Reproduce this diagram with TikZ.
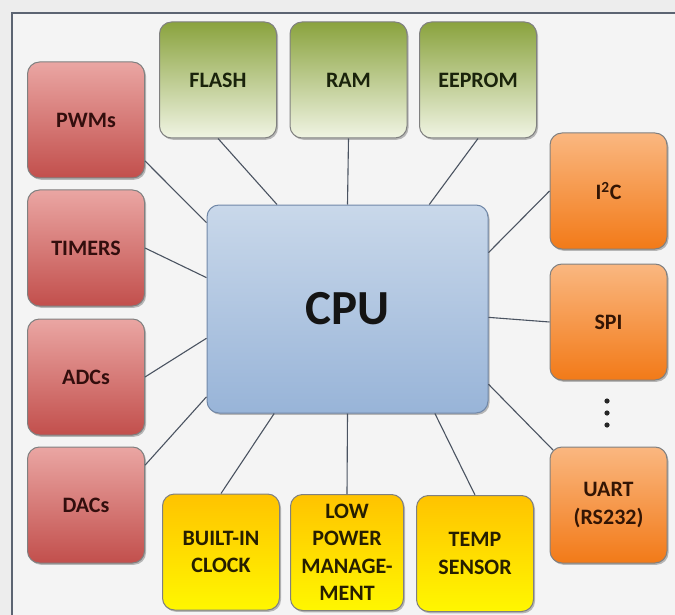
\documentclass[tikz,border=0pt]{standalone}
\usepackage{fontspec}
\setmainfont{Carlito}
\usetikzlibrary{shadows,calc}
\definecolor{bgout}{HTML}{EDEDED}
\definecolor{bgin}{HTML}{F4F4F4}
\definecolor{framec}{HTML}{5C6472}
\definecolor{linec}{HTML}{4A5361}
\definecolor{redtop}{HTML}{EAA6A3}
\definecolor{redbot}{HTML}{C24F4C}
\definecolor{redtxt}{HTML}{330E0D}
\definecolor{grntop}{HTML}{8AA33E}
\definecolor{grnbot}{HTML}{F0F4E3}
\definecolor{grntxt}{HTML}{1A230B}
\definecolor{blutop}{HTML}{C9D8EA}
\definecolor{blubot}{HTML}{98B4D8}
\definecolor{bluedge}{HTML}{7188A8}
\definecolor{orgtop}{HTML}{FAB780}
\definecolor{orgbot}{HTML}{F27A18}
\definecolor{orgtxt}{HTML}{331504}
\definecolor{yeltop}{HTML}{FFC300}
\definecolor{yelbot}{HTML}{FFF700}
\definecolor{yeltxt}{HTML}{261E00}
\definecolor{edgec}{HTML}{808080}
\tikzset{
  box/.style={draw=edgec, line width=1pt, rounded corners=12pt,
    minimum width=117pt, minimum height=116pt, inner sep=2pt, align=center,
    shading=axis, font=\bfseries\fontsize{22}{27.5}\selectfont,
    drop shadow={shadow xshift=1.5pt, shadow yshift=-1.8pt, opacity=.25, fill=black}},
  redbox/.style={box, top color=redtop, bottom color=redbot, text=redtxt},
  grnbox/.style={box, top color=grntop, bottom color=grnbot, text=grntxt},
  orgbox/.style={box, top color=orgtop, bottom color=orgbot, text=orgtxt},
  yelbox/.style={box, top color=yeltop, bottom color=yelbot, text=yeltxt},
  cpubox/.style={box, top color=blutop, bottom color=blubot, draw=bluedge,
    minimum width=281pt, minimum height=208pt, text=black!92,
    font=\bfseries\fontsize{49}{52}\selectfont},
  link/.style={draw=linec, line width=1.1pt},
  dotc/.style={fill=black!85, draw=none}
}
\begin{document}
\begin{tikzpicture}[x=1pt,y=-1pt]
\useasboundingbox (0,0) rectangle (675,615);
\clip (0,0) rectangle (675,615);
\fill[bgout] (0,0) rectangle (675,615);
\filldraw[fill=bgin, draw=framec, line width=1.4pt] (12,13) rectangle (700,640);

% CPU
\node[cpubox] (cpu) at (347.5,309) {CPU};

% left column
\node[redbox] (pwm) at (86,120) {PWMs};
\node[redbox] (tim) at (86,248) {TIMERS};
\node[redbox] (adc) at (86,377) {ADCs};
\node[redbox] (dac) at (86,505) {DACs};

% top row
\node[grnbox] (flash) at (218,80) {FLASH};
\node[grnbox] (ram) at (348.5,80) {RAM};
\node[grnbox] (eeprom) at (478,80) {EEPROM};

% right column
\node[orgbox] (i2c) at (608.5,191) {I\textsuperscript{2}C};
\node[orgbox] (spi) at (608.5,322) {SPI};
\node[orgbox] (uart) at (608.5,505) {UART\\(RS232)};

% bottom row
\node[yelbox] (clk) at (221,552) {BUILT-IN\\CLOCK};
\node[yelbox, minimum width=113pt] (lpm) at (347,552.5) {LOW\\POWER\\MANAGE-\\MENT};
\node[yelbox] (temp) at (475,553.5) {TEMP\\SENSOR};

% dots
\coordinate (dots) at (607,413);
\fill[dotc] ($(dots)+(0,-12)$) circle (2.6pt);
\fill[dotc] (dots) circle (2.6pt);
\fill[dotc] ($(dots)+(0,12)$) circle (2.6pt);

% connectors
\draw[link] ($(pwm.north east)!0.85!(pwm.south east)$) -- ($(cpu.north west)!0.087!(cpu.south west)$);
\draw[link] (tim.east) -- ($(cpu.north west)!0.35!(cpu.south west)$);
\draw[link] (adc.east) -- ($(cpu.north west)!0.64!(cpu.south west)$);
\draw[link] ($(dac.north east)!0.16!(dac.south east)$) -- ($(cpu.north west)!0.92!(cpu.south west)$);

\draw[link] (flash.south) -- ($(cpu.north west)!0.25!(cpu.north east)$);
\draw[link] (ram.south) -- ($(cpu.north west)!0.5!(cpu.north east)$);
\draw[link] (eeprom.south) -- ($(cpu.north west)!0.79!(cpu.north east)$);

\draw[link] (i2c.west) -- ($(cpu.north east)!0.23!(cpu.south east)$);
\draw[link] (spi.west) -- ($(cpu.north east)!0.54!(cpu.south east)$);
\draw[link] ($(uart.north west)+(3.5,3.5)$) -- ($(cpu.north east)!0.86!(cpu.south east)$);

\draw[link] (clk.north) -- ($(cpu.south west)!0.24!(cpu.south east)$);
\draw[link] (lpm.north) -- ($(cpu.south west)!0.5!(cpu.south east)$);
\draw[link] (temp.north) -- ($(cpu.south west)!0.81!(cpu.south east)$);
\end{tikzpicture}
\end{document}
